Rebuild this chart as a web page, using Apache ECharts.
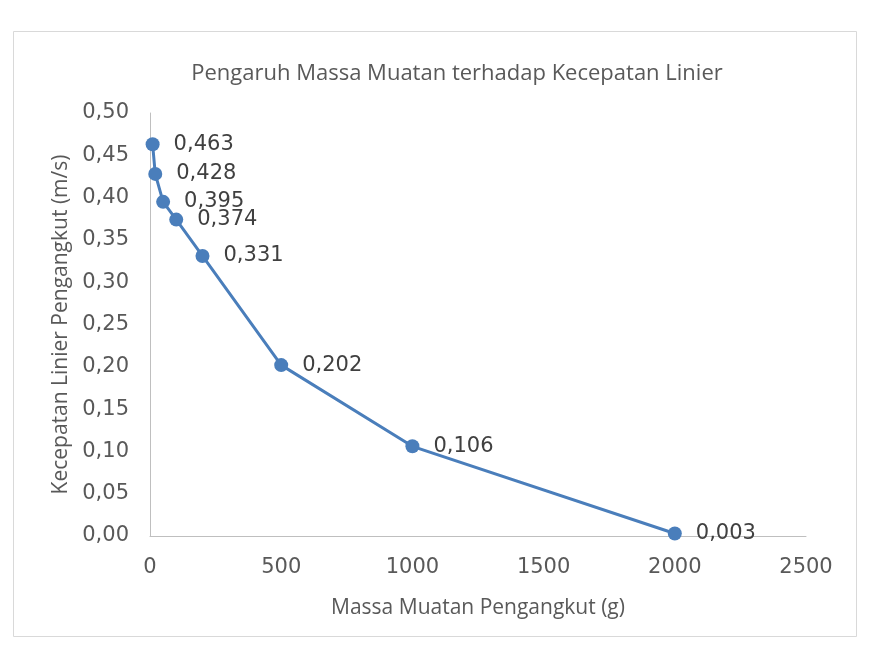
<!DOCTYPE html>
<html>
<head>
<meta charset="utf-8">
<script src="https://cdn.jsdelivr.net/npm/echarts@6/dist/echarts.min.js"></script>
<style>
  html, body { margin: 0; padding: 0; background: #fff; }
  #chart { width: 879px; height: 660px; }
</style>
</head>
<body>
<div id="chart"></div>
<script>
  // data
  var massa = [10, 20, 50, 100, 200, 500, 1000, 2000];
  var kecepatan = [0.463, 0.428, 0.395, 0.374, 0.331, 0.202, 0.106, 0.003];

  var points = massa.map(function (m, i) { return [m, kecepatan[i]]; });
  var textFont = 'Open Sans, sans-serif';
  var numFont = 'DejaVu Sans, sans-serif';

  var myChart = echarts.init(document.getElementById('chart'));
  var option = {
    animation: false,
    backgroundColor: '#fff',
    title: {
      text: 'Pengaruh Massa Muatan terhadap Kecepatan Linier',
      left: 452,
      textAlign: 'center',
      top: 58,
      textStyle: { fontFamily: textFont, fontSize: 22, fontWeight: 'normal', color: '#595959' }
    },
    graphic: [{
      type: 'rect',
      shape: { x: 13.5, y: 31.5, width: 843, height: 605 },
      style: { fill: 'none', stroke: '#d9d9d9', lineWidth: 1 },
      z: -1
    }],
    grid: { left: 150, top: 113, width: 656, height: 423 },
    xAxis: {
      type: 'value',
      min: 0, max: 2500, interval: 500,
      name: 'Massa Muatan Pengangkut (g)',
      nameLocation: 'middle',
      nameGap: 62,
      nameTextStyle: { fontFamily: textFont, fontSize: 21, color: '#595959' },
      axisLine: { lineStyle: { color: '#bfbfbf', width: 1 } },
      axisTick: { show: false },
      splitLine: { show: false },
      axisLabel: {
        fontFamily: numFont, fontSize: 21, color: '#595959', margin: 21,
        formatter: function (v) { return String(v); }
      }
    },
    yAxis: {
      type: 'value',
      min: 0, max: 0.5, interval: 0.05,
      name: 'Kecepatan Linier Pengangkut (m/s)',
      nameLocation: 'middle',
      nameGap: 67,
      nameTextStyle: { fontFamily: textFont, fontSize: 21, color: '#595959' },
      axisLine: { show: true, lineStyle: { color: '#bfbfbf', width: 1 } },
      axisTick: { show: false },
      splitLine: { show: false },
      axisLabel: {
        fontFamily: numFont, fontSize: 21, color: '#595959', margin: 21,
        formatter: function (v) { return v.toFixed(2).replace('.', ','); }
      }
    },
    series: [{
      type: 'line',
      data: points,
      symbol: 'circle',
      symbolSize: 14,
      lineStyle: { color: '#4a7ebb', width: 3 },
      itemStyle: { color: '#4a7ebb' },
      label: {
        show: true,
        position: 'right',
        distance: 14,
        fontFamily: numFont,
        fontSize: 21,
        color: '#404040',
        formatter: function (p) { return p.value[1].toFixed(3).replace('.', ','); }
      }
    }]
  };
  myChart.setOption(option, true);
</script>
</body>
</html>
